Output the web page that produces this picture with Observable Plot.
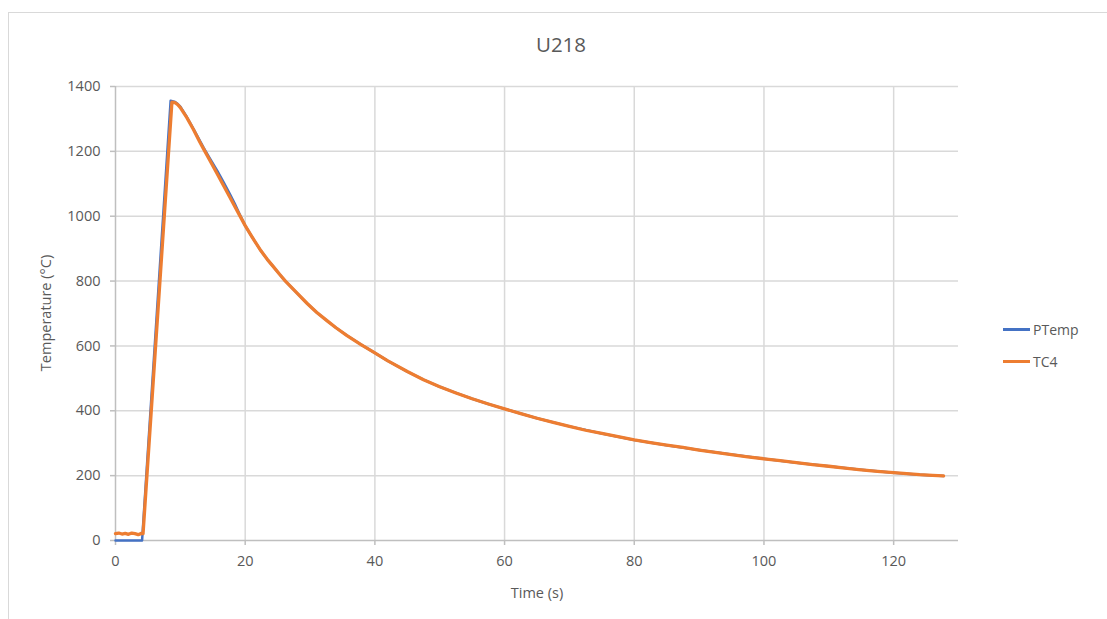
<!DOCTYPE html>
<html>
<head>
<meta charset="utf-8">
<script src="https://cdn.jsdelivr.net/npm/d3@7"></script>
<script src="https://cdn.jsdelivr.net/npm/@observablehq/plot@0.6"></script>
<style>
  html, body { margin: 0; padding: 0; background: #fff; }
  #wrap { position: relative; width: 1107px; height: 619px; overflow: hidden; font-family: "Open Sans", "Noto Sans", sans-serif; color: #595959; }
  #frame { position: absolute; left: 8px; top: 12px; width: 1200px; height: 700px; border-left: 1.5px solid #d9d9d9; border-top: 1.5px solid #d9d9d9; }
  #title { position: absolute; left: 0; width: 1122px; top: 30px; text-align: center; font-size: 20.5px; }
  #ylab { position: absolute; left: 45px; top: 313px; transform: translate(-50%, -50%) rotate(-90deg); font-size: 14.5px; white-space: nowrap; }
  #xlab { position: absolute; left: 537px; top: 592px; transform: translate(-50%, -50%); font-size: 14.5px; white-space: nowrap; }
  .leg { position: absolute; left: 1003px; font-size: 14px; display: flex; align-items: center; }
  .leg span.sw { display: inline-block; width: 27px; height: 2.5px; margin-right: 3px; }
  #chart { position: absolute; left: 0; top: 0; }
  #chart svg text { fill: #595959; }
</style>
</head>
<body>
<div id="wrap">
  <div id="frame"></div>
  <div id="chart"></div>
  <div id="title">U218</div>
  <div id="ylab">Temperature (°C)</div>
  <div id="xlab">Time (s)</div>
  <div class="leg" style="top:320px"><span class="sw" style="background:#4472C4"></span>PTemp</div>
  <div class="leg" style="top:352px"><span class="sw" style="background:#ED7D31"></span>TC4</div>
</div>
<script>
// Series names
const seriesNames = ["PTemp", "TC4"];
const seriesColors = ["#4472C4", "#ED7D31"];

// Tick values
const xTicks = [0, 20, 40, 60, 80, 100, 120];
const yTicks = [0, 200, 400, 600, 800, 1000, 1200, 1400];

// PTemp (s, °C)
const ptempTime = [0, 1, 2, 3, 4.1, 8.5, 9.2, 9.6, 10, 11, 12, 13, 13.6, 14.5, 15.7, 16.7, 17.7, 18.4, 19, 20, 21, 22.4, 23.4, 24.4, 25.3, 26.2, 28, 29.6, 31, 32.6, 34, 35.7, 37.8, 39.8, 42, 45, 47.5, 50, 52.5, 55, 57.5, 60, 65, 70, 75, 80, 85, 90, 95, 100, 105, 110, 115, 120, 124, 127.7];
const ptempTemp = [0, 0, 0, 0, 0, 1356, 1352, 1346, 1338, 1306, 1270, 1233, 1211, 1180, 1140, 1104, 1066, 1038, 1012, 971, 938, 894, 867, 843, 821, 800, 763, 730, 704, 678, 656, 632, 605, 581, 554, 521, 496, 474, 455, 437, 421, 406, 377, 352, 330, 310, 294, 279, 265, 252, 240, 229, 218, 209, 203, 199];

// TC4 (s, °C)
const tc4Time = [0, 0.5, 1, 1.5, 2, 2.5, 3, 3.5, 4, 4.25, 8.7, 9.2, 9.6, 10, 11, 12, 13, 13.6, 14.5, 15.7, 16.7, 17.7, 18.4, 19, 20, 21, 22.4, 23.4, 24.4, 25.3, 26.2, 28, 29.6, 31, 32.6, 34, 35.7, 37.8, 39.8, 42, 45, 47.5, 50, 52.5, 55, 57.5, 60, 62.5, 65, 67.5, 70, 72.5, 75, 77.5, 80, 82.5, 85, 87.5, 90, 92.5, 95, 97.5, 100, 102.5, 105, 107.5, 110, 112.5, 115, 117.5, 120, 122, 124, 126, 127.7];
const tc4Temp = [21, 23, 20, 22, 19, 23, 21, 18, 22, 21, 1352, 1350, 1344, 1335, 1304, 1268, 1229, 1207, 1174, 1130, 1093, 1056, 1030, 1008, 971, 938, 894, 867, 843, 821, 800, 763, 730, 704, 678, 656, 632, 605, 581, 554, 521, 496, 474, 455, 437, 421, 406, 391, 377, 364, 352, 340, 330, 320, 310, 302, 294, 287, 279, 272, 265, 258, 252, 246, 240, 234, 229, 223, 218, 213, 209, 206, 203, 201, 199];

const ptemp = ptempTime.map((t, i) => ({t, v: ptempTemp[i], s: seriesNames[0]}));
const tc4 = tc4Time.map((t, i) => ({t, v: tc4Temp[i], s: seriesNames[1]}));

const grid = "#d9d9d9";
const axisc = "#bfbfbf";

const chart = Plot.plot({
  width: 1107,
  height: 619,
  marginLeft: 115,
  marginRight: 149,
  marginTop: 86,
  marginBottom: 79,
  style: { background: "transparent", fontFamily: "'Open Sans', 'Noto Sans', sans-serif", fontSize: "13.5px", color: "#595959" },
  x: { domain: [0, 130] },
  y: { domain: [0, 1400] },
  marks: [
    Plot.ruleY(yTicks.slice(1), { x1: 0, x2: 130, stroke: grid, strokeWidth: 1.5 }),
    Plot.ruleX(xTicks.slice(1), { y1: 0, y2: 1400, stroke: grid, strokeWidth: 1.5 }),
    Plot.ruleY([0], { x1: 0, x2: 130, stroke: axisc, strokeWidth: 1.5 }),
    Plot.ruleX([0], { y1: 0, y2: 1400, stroke: axisc, strokeWidth: 1.5 }),
    Plot.axisX(xTicks, { tickSize: 5, tickPadding: 10, stroke: axisc, strokeWidth: 1.5, label: null, fontSize: 14.5, tickFormat: d => String(d) }),
    Plot.axisY(yTicks, { tickSize: 5, tickPadding: 10, stroke: axisc, strokeWidth: 1.5, label: null, fontSize: 14.5, tickFormat: d => String(d) }),
    Plot.line(ptemp, { x: "t", y: "v", stroke: seriesColors[0], strokeWidth: 2.5, strokeLinejoin: "round" }),
    Plot.line(tc4, { x: "t", y: "v", stroke: seriesColors[1], strokeWidth: 3.3, strokeLinejoin: "round" })
  ]
});
document.getElementById("chart").appendChild(chart);
</script>
</body>
</html>
